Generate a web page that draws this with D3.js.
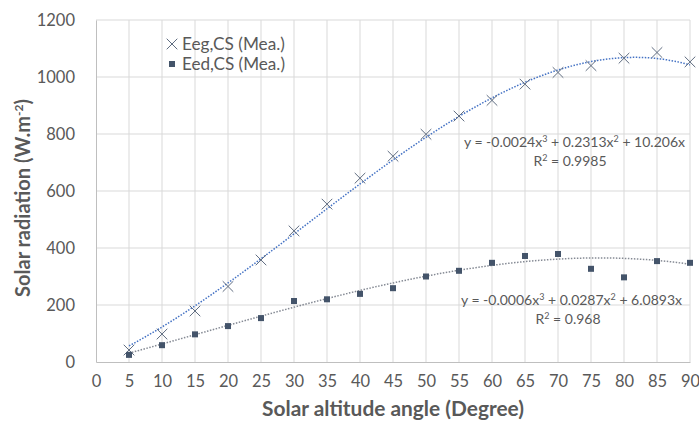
<!DOCTYPE html>
<html lang="en">
  <head>
    <meta charset="UTF-8" />
    <title>Solar radiation vs solar altitude angle</title>
    <script src="https://d3js.org/d3.v7.min.js"></script>
    <style>
      body { margin: 0; background: #fff; }
      text { font-family: Lato, "Liberation Sans", sans-serif; fill: #595959; }
    </style>
  </head>
  <body>
    <div id="chart"></div>
    <script>
      // measured values
      var angles = [5, 10, 15, 20, 25, 30, 35, 40, 45, 50, 55, 60, 65, 70, 75, 80, 85, 90];
      var eeg = [42, 98, 179, 265, 358, 460, 554, 645, 722, 799, 863, 918, 975, 1016, 1040, 1066, 1086, 1053];
      var eed = [25, 59, 97, 126, 154, 214, 220, 239, 259, 300, 320, 348, 372, 379, 327, 297, 354, 348];
      // trendline coefficients as printed on the chart (x^3, x^2, x)
      var eegFit = [-0.0024, 0.2313, 10.206];
      var eedFit = [-0.0006, 0.0287, 6.0893];
      var xTicks = d3.range(0, 91, 5);
      var yTicks = [0, 200, 400, 600, 800, 1000, 1200];

      var width = 699, height = 430;
      var svg = d3.select("#chart").append("svg")
        .attr("width", width).attr("height", height);

      var x = d3.scaleLinear().domain([0, 90]).range([96, 690]);
      var y = d3.scaleLinear().domain([0, 1200]).range([362, 20]);

      // shrink/grow a text's font so it is about w pixels wide
      function fit(sel, w) {
        var fs = parseFloat(sel.style("font-size"));
        var len = sel.node().getComputedTextLength();
        sel.style("font-size", (fs * w / len).toFixed(2) + "px");
        return sel;
      }

      // grid
      svg.append("g").selectAll("line").data(xTicks.slice(1)).join("line")
        .attr("x1", d => x(d)).attr("x2", d => x(d))
        .attr("y1", y(0)).attr("y2", y(1200))
        .attr("stroke", "#d9d9d9").attr("stroke-width", 1);
      svg.append("g").selectAll("line").data(yTicks.slice(1)).join("line")
        .attr("x1", x(0)).attr("x2", x(90))
        .attr("y1", d => y(d)).attr("y2", d => y(d))
        .attr("stroke", "#d9d9d9").attr("stroke-width", 1);

      // axes
      var xAxis = svg.append("g").attr("transform", "translate(0," + y(0) + ")")
        .call(d3.axisBottom(x).tickValues(xTicks).tickSize(0).tickPadding(13));
      var yAxis = svg.append("g").attr("transform", "translate(" + x(0) + ",0)")
        .call(d3.axisLeft(y).tickValues(yTicks).tickFormat(d3.format("d")).tickSize(0).tickPadding(21));
      [xAxis, yAxis].forEach(function (a) {
        a.select(".domain").attr("stroke", "#bfbfbf");
        a.selectAll("text").style("font-size", "16.5px").attr("fill", "#595959")
          .style("font-family", "Lato, sans-serif");
      });

      // trendlines
      function cubic(c) {
        return function (v) { return c[0] * v * v * v + c[1] * v * v + c[2] * v; };
      }
      var fitX = d3.range(5, 90.01, 0.5);
      var line = function (f) {
        return d3.line().x(d => x(d)).y(d => y(f(d)))(fitX);
      };
      svg.append("path").attr("d", line(cubic(eegFit)))
        .attr("fill", "none").attr("stroke", "#4472c4")
        .attr("stroke-width", 1.5).attr("stroke-dasharray", "1.5,1.5");
      svg.append("path").attr("d", line(cubic(eedFit)))
        .attr("fill", "none").attr("stroke", "#858a94")
        .attr("stroke-width", 1.5).attr("stroke-dasharray", "1.5,1.5");

      // markers
      var cross = d3.symbol().type(d3.symbolX).size(75);
      svg.append("g").selectAll("path").data(angles).join("path")
        .attr("d", cross)
        .attr("transform", (d, i) => "translate(" + x(d) + "," + y(eeg[i]) + ")")
        .attr("fill", "none").attr("stroke", "#5f6c80").attr("stroke-width", 1);
      svg.append("g").selectAll("rect").data(angles).join("rect")
        .attr("x", d => x(d) - 3).attr("y", (d, i) => y(eed[i]) - 3)
        .attr("width", 6).attr("height", 6).attr("fill", "#44546a");

      // legend
      svg.append("path").attr("d", cross).attr("transform", "translate(172,44)")
        .attr("fill", "none").attr("stroke", "#5f6c80").attr("stroke-width", 1);
      fit(svg.append("text").attr("x", 182).attr("y", 49.5).style("font-size", "14px").text("Eeg,CS (Mea.)"), 103);
      svg.append("rect").attr("x", 169).attr("y", 61).attr("width", 6).attr("height", 6).attr("fill", "#44546a");
      fit(svg.append("text").attr("x", 182).attr("y", 69.5).style("font-size", "14px").text("Eed,CS (Mea.)"), 103);

      // equations
      function equation(c, r2, yy, xRight, xCenter) {
        var t = svg.append("text").attr("x", xRight).attr("y", yy)
          .attr("text-anchor", "end").style("font-size", "14px");
        t.append("tspan").text("y = " + c[0] + "x");
        t.append("tspan").text("3").attr("dy", -5).style("font-size", "9px");
        t.append("tspan").text(" + " + c[1] + "x").attr("dy", 5);
        t.append("tspan").text("2").attr("dy", -5).style("font-size", "9px");
        t.append("tspan").text(" + " + c[2] + "x").attr("dy", 5);
        var r = svg.append("text").attr("x", xCenter).attr("y", yy + 19)
          .attr("text-anchor", "middle").style("font-size", "14px");
        r.append("tspan").text("R");
        r.append("tspan").text("2").attr("dy", -5).style("font-size", "9px");
        r.append("tspan").text(" = " + r2).attr("dy", 5);
      }
      equation(eegFit, "0.9985", 147, 685, 570);
      equation(eedFit, "0.968", 305, 682, 568);

      // axis titles
      fit(svg.append("text").attr("x", 393).attr("y", 416).attr("text-anchor", "middle")
        .style("font-size", "18px").style("font-weight", "bold")
        .text("Solar altitude angle (Degree)"), 262);
      var yt = svg.append("text").attr("transform", "translate(30,198) rotate(-90)")
        .attr("text-anchor", "middle").style("font-size", "20px").style("font-weight", "bold");
      yt.append("tspan").text("Solar radiation (W.m");
      yt.append("tspan").text("-2").attr("dy", -7).style("font-size", "12px");
      yt.append("tspan").text(")").attr("dy", 7);
    </script>
  </body>
</html>
